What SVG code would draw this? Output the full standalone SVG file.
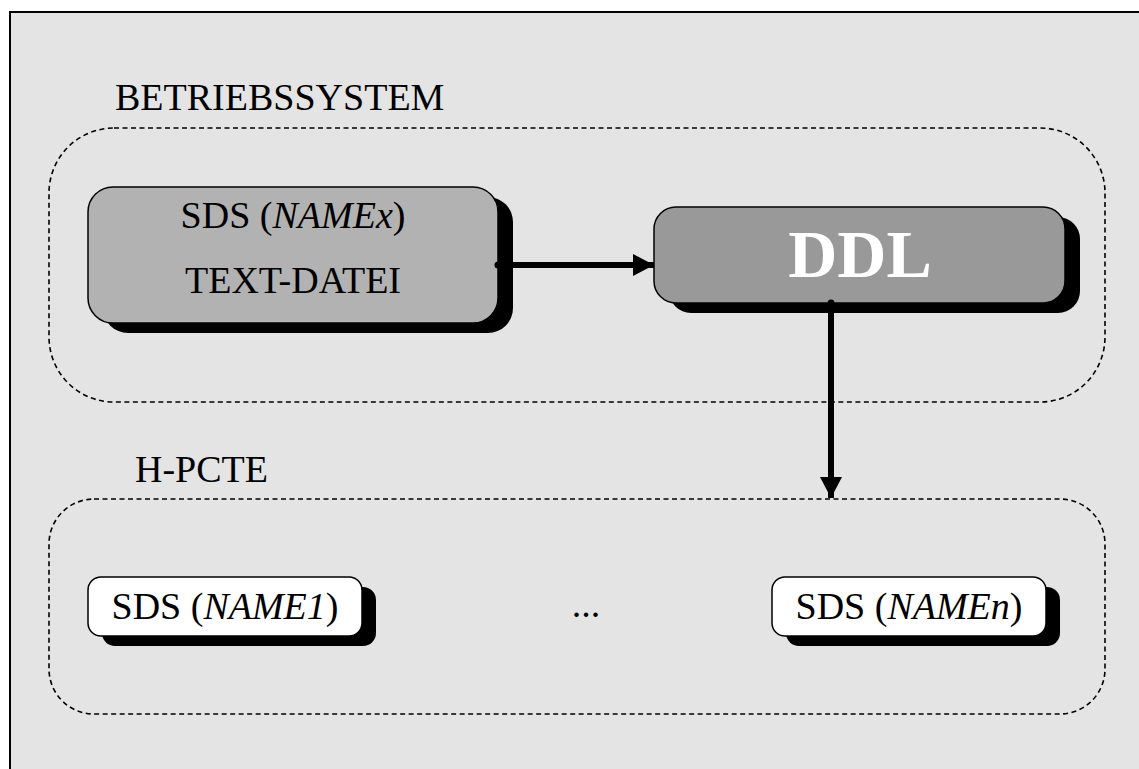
<svg xmlns="http://www.w3.org/2000/svg" width="1139" height="769" viewBox="0 0 1139 769">
<style>
.t{font-family:"Liberation Serif","Times New Roman",serif;font-size:38px;fill:#000}
.i{font-style:italic}
.dash{fill:none;stroke:#000;stroke-width:1.6;stroke-dasharray:5 3.5}
.box{stroke:#000;stroke-width:1.5}
.sh{fill:#000}
.conn{stroke:#000;stroke-width:6;fill:none}
</style>
<defs>
<marker id="ah" markerUnits="userSpaceOnUse" markerWidth="22" markerHeight="24" refX="21" refY="11" orient="auto">
<path d="M0,0 L21,11 L0,22 Z" fill="#000"/>
</marker>
</defs>
<rect x="10" y="12" width="1140" height="770" fill="#e4e4e4" stroke="#000" stroke-width="2"/>
<text class="t" x="115" y="110">BETRIEBSSYSTEM</text>
<rect class="dash" x="49" y="128" width="1056" height="274" rx="65" ry="65"/>
<text class="t" x="135" y="482">H-PCTE</text>
<rect class="dash" x="49" y="499" width="1056" height="215" rx="45" ry="45"/>
<g id="sds-namex">
<rect class="sh" x="103" y="197" width="410" height="136" rx="25" ry="25"/>
<rect class="box" x="88" y="187" width="410" height="136" rx="25" ry="25" fill="#b2b2b2"/>
<text class="t" x="293" y="228" text-anchor="middle">SDS (<tspan class="i">NAMEx</tspan>)</text>
<text class="t" x="293" y="293" text-anchor="middle">TEXT-DATEI</text>
</g>
<g id="ddl">
<rect class="sh" x="669" y="217" width="411" height="96" rx="22" ry="22"/>
<rect class="box" x="654" y="207" width="411" height="96" rx="22" ry="22" fill="#999999"/>
<text x="860" y="277" text-anchor="middle" style="font-family:'Liberation Serif','Times New Roman',serif;font-size:68px;font-weight:bold;fill:#fff">DDL</text>
</g>
<g id="sds-name1">
<rect class="sh" x="102" y="587" width="274" height="59" rx="13" ry="13"/>
<rect class="box" x="88" y="577" width="274" height="59" rx="13" ry="13" fill="#fff"/>
<text class="t" x="225" y="619" text-anchor="middle">SDS (<tspan class="i">NAME1</tspan>)</text>
</g>
<g id="dots">
<text class="t" x="586" y="617" text-anchor="middle">...</text>
</g>
<g id="sds-namen">
<rect class="sh" x="786" y="587" width="274" height="59" rx="13" ry="13"/>
<rect class="box" x="772" y="577" width="274" height="59" rx="13" ry="13" fill="#fff"/>
<text class="t" x="909" y="619" text-anchor="middle">SDS (<tspan class="i">NAMEn</tspan>)</text>
</g>
<g id="connectors">
<circle cx="498" cy="265" r="3.5" fill="#000"/>
<line class="conn" x1="498" y1="265" x2="654" y2="265" marker-end="url(#ah)"/>
<circle cx="831" cy="303" r="3.5" fill="#000"/>
<line class="conn" x1="831" y1="303" x2="831" y2="498" marker-end="url(#ah)"/>
</g>
</svg>
